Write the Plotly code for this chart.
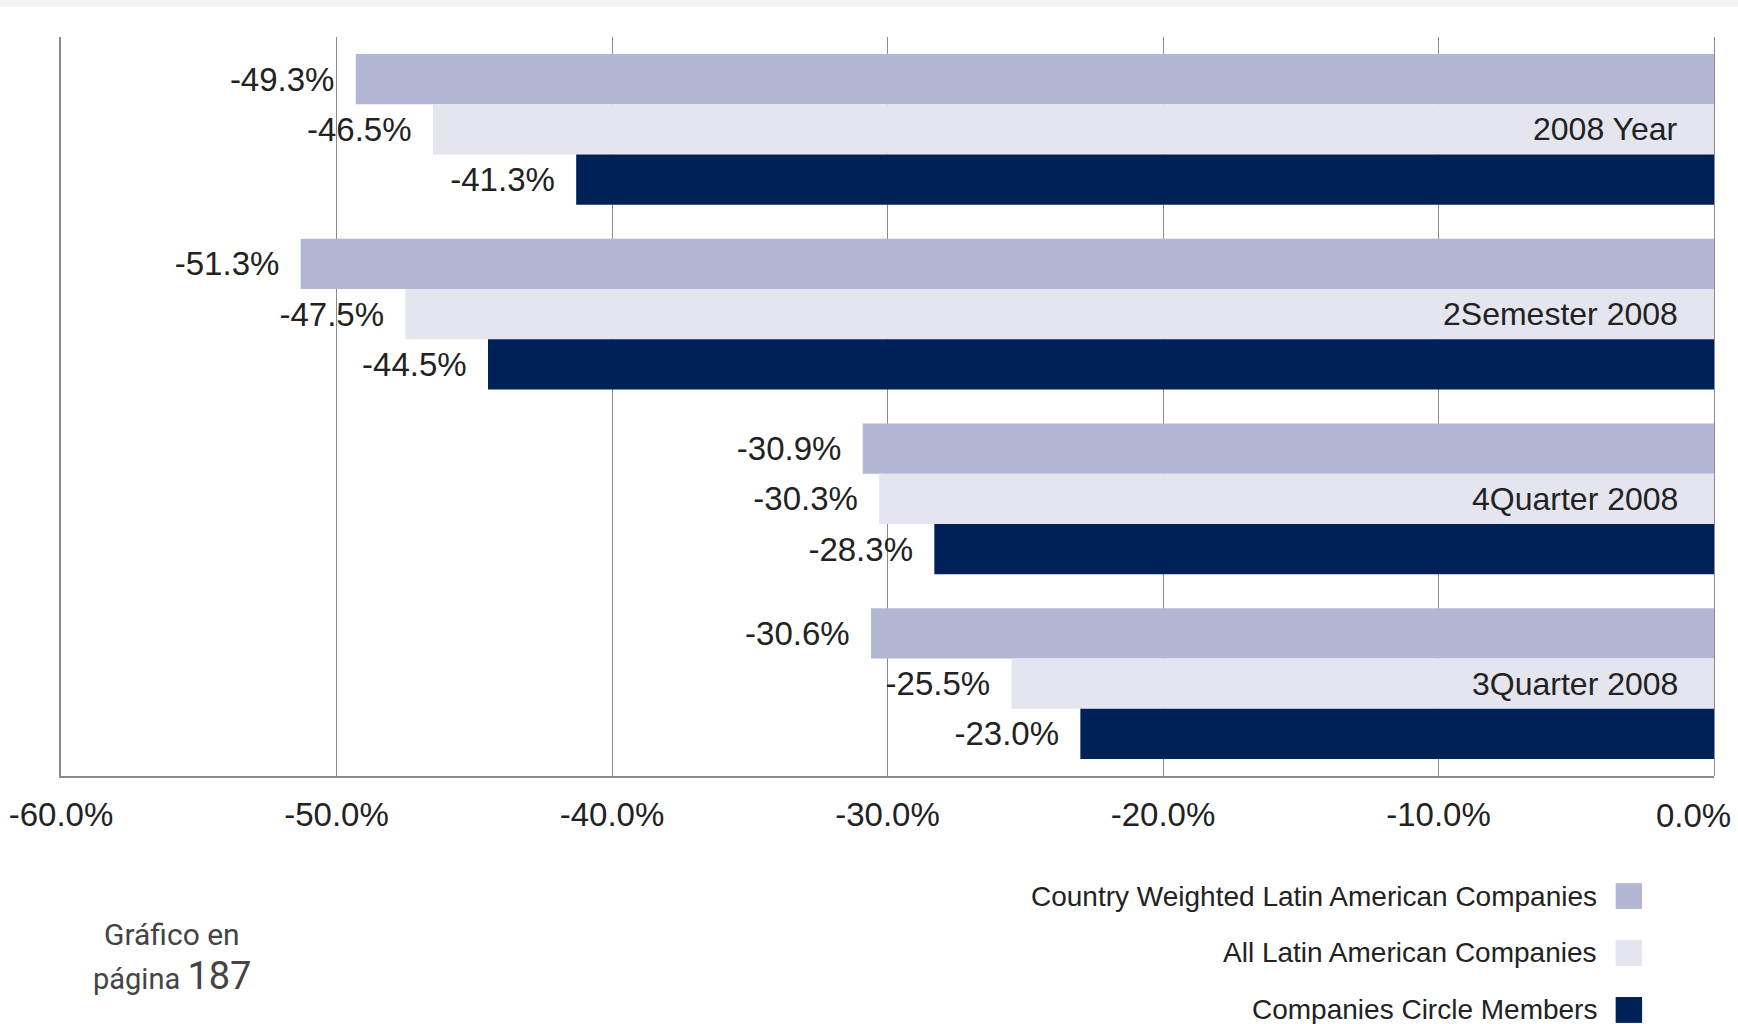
import plotly.graph_objects as go

categories = ["2008 Year", "2Semester 2008", "4Quarter 2008", "3Quarter 2008"]
series_names = [
    "Country Weighted Latin American Companies",
    "All Latin American Companies",
    "Companies Circle Members",
]
country_weighted = [-49.3, -51.3, -30.9, -30.6]
all_latam = [-46.5, -47.5, -30.3, -25.5]
circle_members = [-41.3, -44.5, -28.3, -23.0]
series_values = [country_weighted, all_latam, circle_members]
series_colors = ["#b3b7d3", "#e4e5ef", "#002157"]

tick_values = [-60, -50, -40, -30, -20, -10, 0]
tick_labels = ["-60.0%", "-50.0%", "-40.0%", "-30.0%", "-20.0%", "-10.0%", "0.0%"]

FONT = "Liberation Sans, Arial, sans-serif"
TEXT_COLOR = "#222222"
GRID = "#8a8a8a"

fig = go.Figure()
for name, vals, col in zip(series_names, series_values, series_colors):
    fig.add_trace(go.Bar(
        y=categories, x=vals, orientation="h", name=name,
        marker=dict(color=col, line=dict(width=0)),
        text=[f"{v:.1f}%\u2007" for v in vals],
        textposition="outside", constraintext="none", cliponaxis=False,
        textfont=dict(family=FONT, size=33, color=TEXT_COLOR),
        showlegend=False,
    ))

# category labels inside the middle bar
for c in categories:
    fig.add_annotation(x=0, y=c, xref="x", yref="y", text=c, showarrow=False,
                       xanchor="right", yanchor="middle", xshift=-34,
                       font=dict(family=FONT, size=32, color=TEXT_COLOR))

# custom legend (text right, swatch on the right)
legend_rows_y = [-0.1624, -0.2395, -0.3166]
for name, col, yy in zip(series_names, series_colors, legend_rows_y):
    fig.add_annotation(x=0.9306, y=yy, xref="paper", yref="paper", text=name,
                       showarrow=False, xanchor="right", yanchor="middle",
                       font=dict(family=FONT, size=28, color=TEXT_COLOR))
    fig.add_shape(type="rect", xref="paper", yref="paper",
                  x0=0.9405, x1=0.9565, y0=yy - 0.0175, y1=yy + 0.0175,
                  fillcolor=col, line=dict(width=0), layer="above")

# page note
fig.add_annotation(x=0.0672, y=-0.2145, xref="paper", yref="paper",
                   text="Gráfico en", showarrow=False, xanchor="center", yanchor="middle",
                   font=dict(family="Roboto, Liberation Sans, sans-serif", size=30, color="#444444"))
fig.add_annotation(x=0.0672, y=-0.2700, xref="paper", yref="paper",
                   text="página <span style='font-size:38px'>187</span>", showarrow=False,
                   xanchor="center", yanchor="middle",
                   font=dict(family="Roboto, Liberation Sans, sans-serif", size=29, color="#444444"))

# top grey strip
fig.add_shape(type="rect", xref="paper", yref="paper", x0=-0.05, x1=1.05,
              y0=1.0406, y1=1.06, fillcolor="#f4f4f4", line=dict(width=0), layer="below")

# last tick label (at the right edge) is drawn so it stays inside the page
ticktext = tick_labels[:-1] + [""]
fig.add_annotation(x=tick_values[-1], y=0, xref="x", yref="paper", text=tick_labels[-1],
                   showarrow=False, xanchor="right", yanchor="top", xshift=19, yshift=-19,
                   font=dict(family=FONT, size=33, color=TEXT_COLOR))

fig.update_layout(
    width=1738, height=1024,
    margin=dict(l=61, r=24, t=37, b=248, autoexpand=False),
    paper_bgcolor="white", plot_bgcolor="white",
    barmode="group", bargap=0.184, bargroupgap=0,
    font=dict(family=FONT, color=TEXT_COLOR),
    xaxis=dict(range=[-60, 0], tickvals=tick_values, ticktext=ticktext,
               automargin=False,
               showgrid=True, gridcolor=GRID, gridwidth=1,
               zeroline=True, zerolinecolor=GRID, zerolinewidth=1,
               showline=True, linecolor=GRID, linewidth=1.5,
               ticks="", ticklabelstandoff=9,
               tickfont=dict(family=FONT, size=33, color=TEXT_COLOR),
               fixedrange=True),
    yaxis=dict(categoryorder="array", categoryarray=categories, autorange="reversed",
               automargin=False,
               showticklabels=False, ticks="", showgrid=False,
               showline=True, linecolor=GRID, linewidth=1.5, fixedrange=True),
)

fig.write_html("out.html")
